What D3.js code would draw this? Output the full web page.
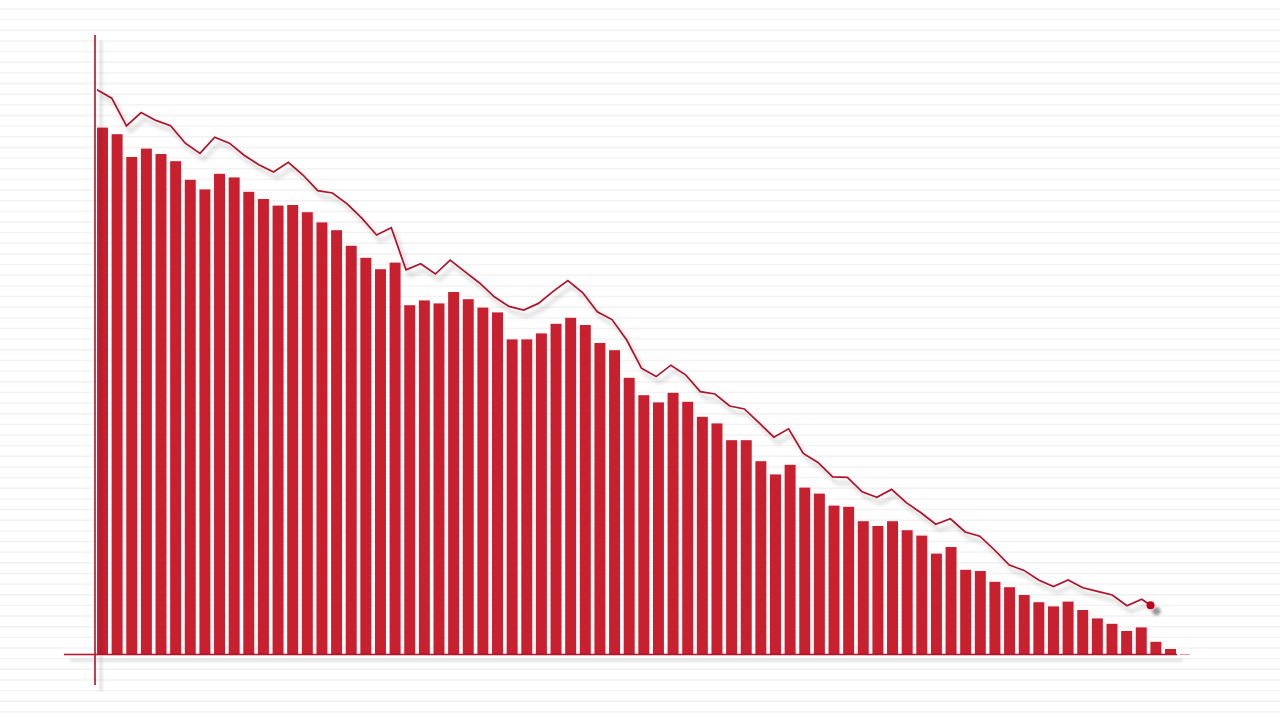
<!DOCTYPE html>
<html>
<head>
<meta charset="utf-8">
<script src="https://cdnjs.cloudflare.com/ajax/libs/d3/7.8.5/d3.min.js"></script>
<style>
html, body { margin: 0; padding: 0; background: #fff; overflow: hidden; }
</style>
</head>
<body>
<div id="chart"></div>
<script>
// bar heights, left to right
var barValues = [87.9, 86.8, 83.0, 84.4, 83.5, 82.3, 79.2, 77.6, 80.2, 79.6,
  77.2, 76.0, 74.9, 75.0, 73.8, 72.1, 70.8, 68.2, 66.2, 64.3,
  65.4, 58.3, 59.1, 58.6, 60.5, 59.3, 57.9, 57.1, 52.6, 52.6,
  53.6, 55.2, 56.2, 55.0, 52.0, 50.8, 46.2, 43.3, 42.1, 43.7,
  42.2, 39.7, 38.6, 35.8, 35.8, 32.3, 30.1, 31.7, 27.9, 26.9,
  24.9, 24.7, 22.3, 21.5, 22.3, 20.8, 19.9, 16.9, 18.0, 14.2,
  14.0, 12.2, 11.3, 10.0, 8.8, 8.1, 8.9, 7.5, 6.1, 5.2,
  4.0, 4.6, 2.2, 1.0];

// the line above the bars
var lineValues = [94.2, 92.8, 88.2, 90.4, 89.1, 88.2, 85.3, 83.6, 86.3, 85.3,
  83.3, 81.7, 80.5, 82.1, 80.0, 77.4, 77.0, 75.2, 72.8, 70.0,
  71.2, 64.2, 65.2, 63.5, 65.8, 63.9, 62.0, 59.7, 58.1, 57.5,
  58.6, 60.6, 62.4, 60.4, 57.2, 55.9, 52.5, 47.8, 46.4, 48.3,
  46.7, 43.9, 43.5, 41.5, 41.0, 38.7, 36.3, 37.7, 33.6, 32.1,
  29.7, 29.6, 27.2, 26.3, 27.6, 25.4, 23.7, 21.8, 22.7, 20.5,
  19.8, 17.5, 15.0, 14.1, 12.5, 11.4, 12.5, 11.2, 10.6, 10.0,
  8.2, 9.3];

// where the line stops (the dot), a part step past the last point
var tipStep = 71.6;
var tipValue = 8.3;

var W = 1280, H = 720;

var svg = d3.select("#chart").append("svg").
  attr("width", W).
  attr("height", H);

var defs = svg.append("defs");

function addShadow(id, dx, dy, blur, op) {
  var f = defs.append("filter").
    attr("id", id).
    attr("filterUnits", "userSpaceOnUse").
    attr("x", 0).attr("y", 0).
    attr("width", W).attr("height", H);
  f.append("feDropShadow").
    attr("dx", dx).
    attr("dy", dy).
    attr("stdDeviation", blur).
    attr("flood-color", "#000").
    attr("flood-opacity", op);
}
addShadow("lineShadow", 4, 6, 2.2, 0.28);
addShadow("axisShadow", 6, 6, 1.8, 0.22);
addShadow("dotShadow", 6, 6, 1.6, 0.4);

// paper lines in the back
var rows = d3.range(9, H, 10.65);
svg.selectAll("line.paper").
  data(rows).
  enter().append("line").
  attr("class", "paper").
  attr("x1", 0).
  attr("x2", W).
  attr("y1", function(d) { return d; }).
  attr("y2", function(d) { return d; }).
  attr("stroke", "#f2f2f2").
  attr("stroke-width", 1.4);

var x = d3.scaleBand().
  domain(d3.range(barValues.length)).
  range([97, 1176]).
  paddingInner(0.25).
  paddingOuter(0);

var y = d3.scaleLinear().
  domain([0, 100]).
  range([655, 55]);

var lineX = d3.scaleLinear().
  domain([0, lineValues.length - 1]).
  range([97, 1141.7]);

svg.selectAll("rect.bar").
  data(barValues).
  enter().append("rect").
  attr("class", "bar").
  attr("x", function(d, i) { return x(i); }).
  attr("y", function(d) { return y(d); }).
  attr("width", x.bandwidth()).
  attr("height", function(d) { return y(0) - y(d); }).
  attr("fill", "#c8202f");

//axes
var axisColor = "#b3122a";
var axes = svg.append("g").attr("filter", "url(#axisShadow)");
axes.append("line").
  attr("x1", 95).attr("x2", 95).
  attr("y1", y(100) - 20).
  attr("y2", y(0) + 30).
  attr("stroke", axisColor).
  attr("stroke-width", 1.6);
axes.append("line").
  attr("x1", 64).
  attr("x2", x.range()[1] + 1).
  attr("y1", y(0) - 0.5).
  attr("y2", y(0) - 0.5).
  attr("stroke", axisColor).
  attr("stroke-width", 1.6);
svg.append("line").
  attr("x1", x.range()[1] + 4).
  attr("x2", x.range()[1] + 14).
  attr("y1", y(0) - 0.5).
  attr("y2", y(0) - 0.5).
  attr("stroke", "#e39aa3").
  attr("stroke-width", 1);

var pts = lineValues.map(function(v, i) { return [i, v]; });
pts.push([tipStep, tipValue]);

var line = d3.line().
  x(function(d) { return lineX(d[0]); }).
  y(function(d) { return y(d[1]); });

svg.append("path").
  datum(pts).
  attr("d", line).
  attr("fill", "none").
  attr("stroke", "#b0122b").
  attr("stroke-width", 1.7).
  attr("stroke-linejoin", "miter").
  attr("filter", "url(#lineShadow)");

svg.append("circle").
  attr("cx", lineX(tipStep)).
  attr("cy", y(tipValue)).
  attr("r", 4).
  attr("fill", "#c0001c").
  attr("filter", "url(#dotShadow)");
</script>
</body>
</html>
